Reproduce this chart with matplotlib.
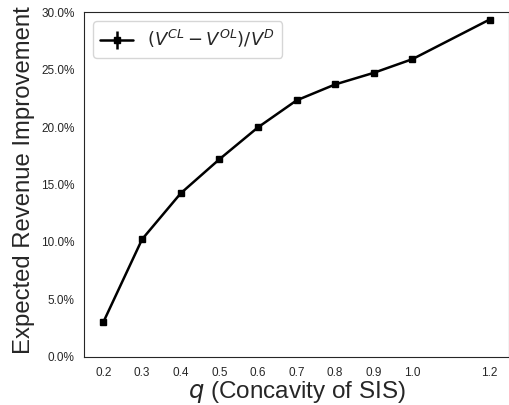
import matplotlib
matplotlib.use("Agg")
import matplotlib.pyplot as plt
import seaborn as sns
from matplotlib.ticker import PercentFormatter

# values
q = [0.2, 0.3, 0.4, 0.5, 0.6, 0.7, 0.8, 0.9, 1.0, 1.2]
improvement = [0.0304, 0.1023, 0.1423, 0.1719, 0.1997, 0.2232, 0.2371, 0.2472, 0.2591, 0.2936]
err = [0.0] * len(q)

sns.set_style("white")
plt.rcParams["font.family"] = ["Liberation Sans", "DejaVu Sans"]
plt.rcParams["mathtext.fontset"] = "dejavusans"

fig = plt.figure(figsize=(5.1, 4.05), dpi=100)
ax = fig.add_axes([0.165, 0.119, 0.833, 0.851])
ax.errorbar(q, improvement, yerr=err, color="black", marker="s", markersize=5,
            linewidth=1.8, label=r"$(V^{CL}-V^{OL})/V^{D}$")

ax.set_ylim(0, 0.30)
ax.set_xlim(0.15, 1.25)
ax.set_xticks(q)
ax.set_xticklabels([f"{v:.1f}" for v in q], fontsize=8.5)
ax.set_yticks([0.0, 0.05, 0.10, 0.15, 0.20, 0.25, 0.30])
ax.yaxis.set_major_formatter(PercentFormatter(1.0, decimals=1))
ax.tick_params(axis="y", labelsize=8.5)
ax.set_xlabel(r"$q$ (Concavity of SIS)", fontsize=17.5, labelpad=0)
ax.set_ylabel("Expected Revenue Improvement", fontsize=17.2)
ax.yaxis.set_label_coords(-0.115, 0.514)
ax.legend(loc="upper left", fontsize=13, handlelength=1.8)

fig.savefig("out.png", dpi=100)
